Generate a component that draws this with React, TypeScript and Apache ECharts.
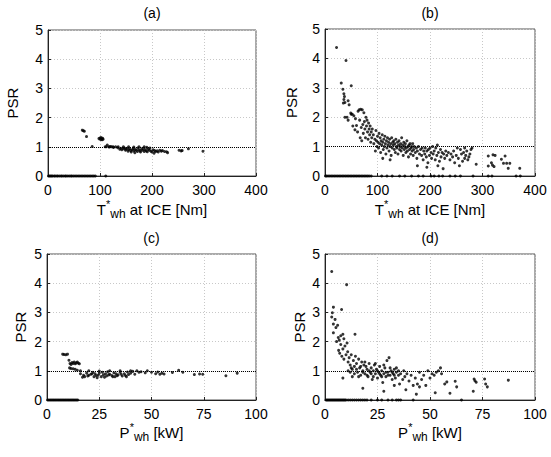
import React, { useEffect, useRef } from "react";
import * as echarts from "echarts";

// ---- Panel (a): PSR vs T*wh at ICE ----
const aZeroX = [1, 3, 5, 7, 9, 12, 14, 17, 19, 22, 25, 27, 30, 33, 35, 38, 41, 44, 46, 49, 52, 55, 58, 61, 64, 67, 70, 73, 76, 79, 82, 85, 88, 91, 111];
const aX = [66, 68, 70, 74, 85, 98, 100, 101, 102, 103, 104, 105, 106, 110, 114, 117, 120, 112, 118, 122, 126, 130, 134, 138, 140, 142, 145, 147, 149, 150, 152, 154, 155, 157, 159, 160, 162, 164, 165, 167, 168, 170, 172, 173, 175, 177, 178, 180, 182, 184, 185, 187, 189, 190, 191, 193, 195, 196, 198, 200, 202, 204, 205, 207, 210, 212, 215, 218, 220, 224, 228, 230, 252, 256, 258, 270, 298, 125, 135, 145, 155, 165, 175, 185];
const aY = [1.57, 1.55, 1.53, 1.35, 1.01, 1.28, 1.3, 1.25, 1.32, 1.27, 1.24, 1.29, 1.26, 1.0, 1.06, 1.0, 1.01, 1.0, 0.99, 1.0, 0.98, 1.0, 0.97, 0.92, 0.95, 0.9, 0.93, 0.96, 0.88, 0.92, 0.95, 0.85, 0.9, 0.93, 0.87, 0.82, 0.9, 0.94, 0.86, 0.8, 0.91, 0.88, 0.84, 0.96, 0.9, 0.86, 0.82, 0.92, 0.88, 0.95, 0.84, 0.9, 0.86, 0.98, 0.83, 0.92, 0.88, 0.96, 0.85, 0.82, 0.9, 0.78, 0.87, 0.84, 0.86, 0.82, 0.88, 0.85, 0.87, 0.84, 0.83, 0.8, 0.88, 0.86, 0.87, 0.93, 0.85, 1.0, 1.0, 1.0, 1.0, 0.99, 1.0, 1.0];

// ---- Panel (b) ----
const bZeroX = [1, 3, 6, 9, 12, 15, 18, 21, 24, 27, 30, 33, 36, 39, 42, 45, 48, 51, 54, 57, 60, 63, 66, 69, 72, 75, 78, 81, 84, 88, 108, 118, 128, 142, 152, 165, 178, 187, 202, 208, 217, 224, 238, 248, 258, 282, 311, 318, 364, 372];
const bX = [22, 40, 50, 31, 34, 36, 37, 36, 38, 44, 46, 38, 49, 35,
  42, 44, 50, 52, 53, 55, 58,
  57, 60, 62, 63, 65, 66, 67, 68, 69, 70, 71, 72, 73, 74, 75, 76, 77, 78, 79, 80, 81, 82, 83, 84, 85, 86, 87, 88, 89, 90,
  92, 93, 95, 96, 97, 98, 99, 100, 101, 102, 103, 104, 105, 106, 107, 108, 109, 110, 111, 112, 113, 114, 115, 116, 117, 118, 119, 120, 121, 122, 123, 124, 125, 126, 127, 128, 129, 130, 110, 124,
  131, 132, 133, 134, 135, 136, 137, 138, 139, 140, 141, 142, 143, 144, 145, 146, 147, 148, 149, 150, 151, 152, 153, 154, 155, 156, 157, 158, 159, 160, 161, 162, 163, 164, 165, 166, 167, 168, 169, 170, 172, 174, 175, 176, 178, 180, 176,
  182, 184, 185, 187, 188, 190, 191, 193, 194, 196, 197, 199, 200, 202, 203, 205, 206, 208, 210, 211, 213, 214, 216, 218, 220, 221, 223, 225, 226, 228, 230, 194, 215,
  232, 235, 238, 240, 243, 245, 247, 250, 252, 254, 256, 258, 260, 262, 264, 266, 268, 270, 272, 274, 276, 278, 280, 266, 288,
  311, 311, 317, 319, 320, 322, 324, 336, 340, 343, 346, 349, 352, 371];
const bY = [4.37, 3.93, 3.07, 3.16, 2.95, 2.8, 2.7, 2.6, 2.5, 2.56, 2.42, 2.0, 2.14, 2.48,
  2.0, 1.9, 2.1, 2.1, 1.7, 2.05, 1.95,
  1.57, 1.72, 1.5, 2.2, 2.25, 1.9, 1.3, 2.27, 1.65, 1.2, 2.25, 1.75, 1.45, 2.15, 1.85, 1.6, 1.3, 2.0, 1.7, 1.9, 1.5, 1.25, 1.8, 1.6, 1.4, 1.7, 1.15, 1.5, 1.3, 1.6,
  1.4, 1.1, 1.25, 0.85, 1.55, 1.2, 1.0, 1.35, 1.15, 0.95, 1.45, 1.1, 1.3, 0.8, 1.2, 1.05, 1.4, 1.15, 0.9, 1.25, 1.0, 1.35, 1.1, 0.75, 1.2, 0.95, 1.3, 1.05, 1.15, 0.85, 1.25, 1.0, 1.1, 0.7, 1.3, 0.95, 1.15, 1.05, 0.6, 0.55,
  1.2, 0.9, 1.1, 0.8, 1.25, 1.0, 0.95, 1.15, 0.75, 1.05, 1.2, 0.9, 1.0, 1.1, 0.85, 1.3, 0.95, 1.05, 0.7, 1.15, 0.9, 1.0, 1.1, 0.8, 0.95, 1.2, 0.85, 1.0, 0.65, 1.05, 0.9, 1.1, 0.75, 0.95, 1.0, 0.85, 1.1, 0.7, 0.9, 1.0, 0.8, 0.95, 0.6, 0.85, 1.0, 0.75, 0.35,
  0.9, 0.7, 0.95, 0.55, 0.85, 0.75, 0.95, 0.65, 0.85, 0.45, 0.9, 0.7, 0.95, 0.8, 0.6, 1.0, 0.75, 0.85, 0.55, 0.95, 0.7, 1.05, 0.8, 0.5, 0.9, 0.65, 0.8, 0.25, 0.75, 0.6, 0.85, 0.3, 0.35,
  0.7, 0.8, 0.55, 0.75, 0.65, 0.85, 0.45, 0.7, 0.95, 0.6, 0.35, 0.9, 0.75, 0.5, 0.8, 0.6, 0.7, 0.85, 0.55, 0.65, 0.75, 0.9, 0.95, 0.95, 0.4,
  0.68, 0.34, 0.45, 0.37, 0.72, 0.32, 0.7, 0.57, 0.43, 0.68, 0.43, 0.26, 0.43, 0.26];

// ---- Panel (c): PSR vs P*wh ----
const cZeroX = [0.3, 0.9, 1.5, 2.1, 2.7, 3.3, 3.9, 4.5, 5.1, 5.7, 6.3, 6.9, 7.5, 8.1, 8.7, 9.3, 9.9, 10.5, 11.1, 11.7, 12.3, 12.9, 13.5, 14.1, 14.7];
const cX = [7.5, 8.2, 9, 9.8, 10.5, 11, 11.5, 12, 12.5, 13, 13.5, 14, 14.5, 15, 15.5, 10.8, 11.5, 12.5, 13.5, 14.5,
  16, 17, 17.5, 18, 19, 20, 21, 22, 22.5, 23, 24, 24.5, 25, 26, 26.5, 27, 28, 28.5, 29, 30, 31, 32, 32.5, 33, 34, 35, 36, 37, 38, 38.5, 39, 40, 41, 42, 43, 44, 45, 47, 48, 50, 52, 53, 54, 55, 56, 60, 63, 65, 70.5, 73, 74.5, 85.6, 91,
  16, 20, 25, 30, 35, 40, 19.5, 21.5, 23.5, 27.5, 29.5, 31.5, 33.5, 35.5, 37.5];
const cY = [1.57, 1.56, 1.55, 1.57, 1.36, 1.25, 1.22, 1.28, 1.25, 1.3, 1.24, 1.27, 1.3, 1.26, 1.24, 1.1, 1.08, 1.07, 1.05, 1.02,
  0.9, 0.78, 0.85, 0.8, 0.92, 0.85, 0.88, 0.95, 0.8, 0.9, 0.76, 0.85, 0.92, 0.8, 0.95, 0.86, 0.9, 0.82, 0.97, 0.88, 0.84, 0.93, 0.8, 0.9, 0.86, 0.95, 0.82, 0.9, 0.8, 0.96, 0.87, 0.92, 0.98, 0.88, 1.0, 0.95, 0.97, 0.93, 1.0, 0.95, 0.9, 0.96, 0.88, 0.92, 0.89, 0.94, 1.02, 0.95, 0.87, 0.89, 0.88, 0.83, 0.92,
  1.0, 1.0, 0.99, 1.0, 1.0, 1.0, 0.82, 0.9, 0.84, 0.78, 0.86, 0.8, 0.83, 0.88, 0.84];

// ---- Panel (d) ----
const dZeroX = [0.5, 1, 1.5, 2, 2.5, 3, 3.5, 4, 4.5, 5, 5.5, 6, 6.5, 7, 7.5, 8, 8.5, 9, 9.5, 10, 11, 12, 13, 14, 15, 16, 17, 18, 19, 20, 22, 25, 27, 30, 32, 34, 35, 36, 42, 65];
const dX = [3.2, 10.3, 7.9, 4, 3.5, 3.2, 4.8, 4, 5.2, 6, 4, 14.3, 6.3, 6.8, 7.5, 8.5, 9, 5.5, 6.5, 7, 7.5, 8, 8.5, 9, 9.5, 10, 10.5, 10.8, 11, 11.5, 12, 12.5, 13, 13.5, 14, 14.5, 15, 15.5, 16, 16.5, 17, 17.5, 18, 18.5, 19, 19.5, 20, 20.5, 21, 21.5, 22, 22.5, 23, 23.5, 24, 24.5, 25, 25.5, 26, 26.5, 27, 27.5, 28, 28.5, 29, 29.5, 30, 30.5, 31, 31.5, 32, 32.5, 33, 33.5, 34, 35, 35.5, 36, 37, 37.5, 38, 38.5, 39, 40, 41, 42, 43, 43.5, 44, 45, 46, 47, 48, 49, 50, 51, 52, 52.5, 53, 54, 55, 55.5, 57, 58, 59.5, 62, 62.7, 70.6, 71, 71.4, 72, 76, 76.5, 77.3, 87.3,
  8.5, 12, 13, 18, 28, 33, 45,
  11, 12.5, 14, 15, 16, 17, 18, 19, 20, 21, 22, 23, 24, 25, 26, 27, 28, 29, 30, 31, 32, 33, 34, 35];
const dY = [4.4, 3.95, 3.1, 3.18, 2.99, 2.84, 2.76, 2.6, 2.48, 2.56, 2.3, 2.25, 2.14, 2.05, 2.2, 2.25, 2.1, 2.0, 1.7, 1.6, 1.9, 1.5, 1.75, 1.4, 1.85, 1.55, 1.95, 1.65, 1.3, 1.45, 1.2, 1.55, 1.05, 1.35, 1.15, 1.5, 1.25, 0.95, 1.4, 1.1, 0.85, 1.3, 1.0, 1.2, 0.9, 1.15, 1.05, 0.8, 1.25, 0.95, 1.1, 0.7, 1.0, 1.2, 0.9, 1.05, 0.75, 0.95, 1.15, 0.85, 1.0, 0.6, 0.9, 1.1, 0.8, 1.35, 0.95, 1.45, 0.85, 1.0, 0.7, 0.9, 1.05, 0.75, 0.95, 0.85, 0.55, 0.9, 0.7, 1.0, 0.8, 0.35, 0.9, 0.65, 0.85, 0.5, 0.75, 0.2, 0.55, 0.95, 0.7, 0.85, 0.5, 1.0, 0.75, 0.9, 0.85, 0.25, 0.95, 1.0, 1.1, 0.9, 0.55, 0.62, 0.23, 0.64, 0.45, 0.3, 0.72, 0.66, 0.61, 0.72, 0.55, 0.45, 0.68,
  0.75, 0.95, 0.8, 0.4, 0.3, 0.5, 0.45,
  1.0, 1.1, 0.9, 1.05, 0.8, 1.15, 0.95, 1.3, 0.85, 1.0, 0.9, 0.8, 1.25, 1.0, 0.9, 0.8, 1.2, 0.95, 0.85, 1.1, 0.95, 0.85, 1.1, 1.0];

const xTicksT = [0, 100, 200, 300, 400];
const xTicksP = [0, 25, 50, 75, 100];
const panelTitles = ["(a)", "(b)", "(c)", "(d)"];

const FONT = "'Liberation Sans', Arial, sans-serif";

const grids = [
  { left: 48, top: 30, width: 208, height: 146 },
  { left: 325, top: 29, width: 210, height: 147 },
  { left: 47, top: 254, width: 209, height: 146 },
  { left: 325, top: 254, width: 210, height: 146 },
];

function pts(zeros: number[], xs: number[], ys: number[]) {
  const out: number[][] = zeros.map((x) => [x, 0]);
  xs.forEach((x, i) => out.push([x, ys[i]]));
  return out;
}

export default function App() {
  const ref = useRef<HTMLDivElement>(null);
  useEffect(() => {
    if (!ref.current) return;
    const chart = echarts.init(ref.current, undefined, { renderer: "svg" });
    const panels = [
      { data: pts(aZeroX, aX, aY), ticks: xTicksT },
      { data: pts(bZeroX, bX, bY), ticks: xTicksT },
      { data: pts(cZeroX, cX, cY), ticks: xTicksP },
      { data: pts(dZeroX, dX, dY), ticks: xTicksP },
    ];
    const gridLine = { show: true, lineStyle: { color: "#c8c8c8", type: [1, 2] as any, width: 1 } };
    const xAxis = panels.map((p, i) => ({
      type: "value",
      gridIndex: i,
      min: p.ticks[0],
      max: p.ticks[p.ticks.length - 1],
      interval: p.ticks[1] - p.ticks[0],
      axisLine: { show: true, onZero: false, lineStyle: { color: "#222", width: 1 } },
      axisTick: { show: true, inside: true, length: 3, lineStyle: { color: "#222" } },
      axisLabel: { color: "#000", fontSize: 14, fontFamily: FONT, margin: 7 },
      splitLine: gridLine,
    }));
    const yAxis = panels.map((_, i) => ({
      type: "value",
      gridIndex: i,
      min: 0,
      max: 5,
      interval: 1,
      axisLine: { show: true, onZero: false, lineStyle: { color: "#222", width: 1 } },
      axisTick: { show: true, inside: true, length: 3, lineStyle: { color: "#222" } },
      axisLabel: { color: "#000", fontSize: 14, fontFamily: FONT, margin: 5 },
      splitLine: gridLine,
    }));
    const series = panels.map((p, i) => ({
      type: "scatter",
      xAxisIndex: i,
      yAxisIndex: i,
      data: p.data,
      symbol: "circle",
      symbolSize: 3,
      itemStyle: { color: "#000" },
      silent: true,
      markLine: {
        silent: true,
        symbol: ["none", "none"],
        label: { show: false },
        lineStyle: { color: "#000", type: [1, 1] as any, width: 1 },
        data: [{ yAxis: 1 }],
      },
    }));

    const titleY = [13, 13, 238, 238];
    const psrX = [12, 291, 20, 299];
    const xlabY = [209, 209, 432, 432];
    const rich = {
      m: { fontSize: 15, fontFamily: FONT, color: "#000", lineHeight: 22, verticalAlign: "middle" },
      sup: { fontSize: 11, fontFamily: FONT, color: "#000", lineHeight: 11, verticalAlign: "top" },
      sub: { fontSize: 12, fontFamily: FONT, color: "#000", lineHeight: 11, verticalAlign: "bottom" },
    };
    const graphic: any[] = [];
    grids.forEach((g, i) => {
      const cx = g.left + g.width / 2;
      const cy = g.top + g.height / 2;
      graphic.push({
        type: "text",
        x: cx,
        y: titleY[i],
        style: { text: panelTitles[i], fontSize: 14, fontFamily: FONT, fill: "#000", align: "center", verticalAlign: "middle" },
      });
      graphic.push({
        type: "text",
        x: psrX[i],
        y: cy,
        rotation: Math.PI / 2,
        style: { text: "PSR", fontSize: 15, fontFamily: FONT, fill: "#000", align: "center", verticalAlign: "middle" },
      });
      const label = i < 2 ? "{m|T}{sup|*}{sub|wh}{m| at ICE [Nm]}" : "{m|P}{sup|*}{sub|wh}{m| [kW]}";
      graphic.push({
        type: "text",
        x: cx,
        y: xlabY[i],
        style: { text: label, rich, align: "center", verticalAlign: "middle" },
      });
    });

    chart.setOption({
      animation: false,
      backgroundColor: "#fff",
      grid: grids.map((g) => ({ ...g, show: true, borderColor: "#555", borderWidth: 1, backgroundColor: "transparent" })),
      xAxis,
      yAxis,
      series,
      graphic,
    } as any);
    return () => chart.dispose();
  }, []);
  return <div ref={ref} style={{ position: "fixed", left: 0, top: 0, width: 551, height: 457 }} />;
}
